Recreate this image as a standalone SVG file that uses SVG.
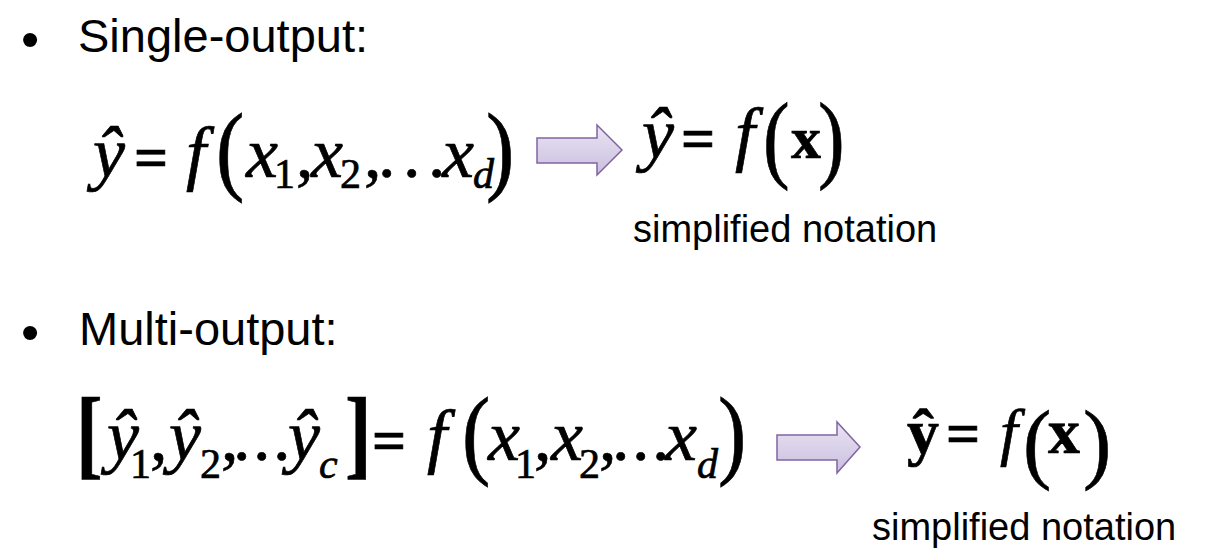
<svg xmlns="http://www.w3.org/2000/svg" width="1206" height="558" viewBox="0 0 1206 558">
<defs>
<linearGradient id="arrowFill" x1="0" y1="0" x2="0" y2="1">
<stop offset="0" stop-color="#EAE5F3"/>
<stop offset="1" stop-color="#C9BEDE"/>
</linearGradient>
<style>
.sans{font-family:"Liberation Sans",Arial,sans-serif;fill:#000}
.h{font-size:47px}
.bul{font-size:52px}
.note{font-size:38px}
.m{font-family:"Liberation Serif","Times New Roman",serif;fill:#000;stroke:#000;stroke-width:0.7px}
.i{font-style:italic;font-size:72px}
.u{font-size:70px}
.sub{font-size:42px}
.subi{font-style:italic;font-size:42px}
.op{font-size:60px;font-weight:bold}
.par{font-size:100px}
.brk{font-size:100px;font-weight:bold}
.b{font-weight:bold;font-size:64px}
.arrow{fill:url(#arrowFill);stroke:#8064A2;stroke-width:1.5}
</style>
</defs>
<rect width="1206" height="558" fill="#fff"/>

<g id="heading-single">
<text class="sans bul" x="21" y="57">•</text>
<text class="sans h" x="78" y="52">Single-output:</text>
</g>

<g id="eq-single-full">
<text class="m i" x="93" y="177">ŷ</text>
<text class="m op" x="134" y="177">=</text>
<text class="m i" x="186" y="177">f</text>
<text class="m par" transform="translate(216,182) scale(0.85,1)">(</text>
<text class="m i" x="246" y="177">x</text>
<text class="m sub" x="274" y="188">1</text>
<text class="m u" x="296" y="177">,</text>
<text class="m i" x="311" y="177">x</text>
<text class="m sub" x="340" y="188">2</text>
<text class="m u" x="364" y="177">,</text>
<text class="m u" x="378" y="177" letter-spacing="7.5">...</text>
<text class="m i" x="442" y="177">x</text>
<text class="m subi" x="473" y="188">d</text>
<text class="m par" transform="translate(486,182) scale(0.85,1)">)</text>
</g>

<g id="eq-single-simple">
<text class="m i" x="642" y="158">ŷ</text>
<text class="m op" x="681" y="158">=</text>
<text class="m i" x="735" y="158">f</text>
<text class="m par" transform="translate(763,170) scale(0.8,0.97)">(</text>
<text class="m b" x="791" y="158" style="font-size:60px">x</text>
<text class="m par" transform="translate(818,170) scale(0.8,0.97)">)</text>
<text class="sans note" x="633" y="242">simplified notation</text>
</g>

<g id="heading-multi">
<text class="sans bul" x="21" y="350">•</text>
<text class="sans h" x="79" y="345">Multi-output:</text>
</g>

<g id="eq-multi-full">
<text class="m brk" transform="translate(76,466) scale(0.8,1)">[</text>
<text class="m i" x="107" y="460">ŷ</text>
<text class="m sub" x="130" y="478">1</text>
<text class="m u" x="150" y="460">,</text>
<text class="m i" x="169" y="460">ŷ</text>
<text class="m sub" x="200" y="478">2</text>
<text class="m u" x="221" y="460">,</text>
<text class="m u" x="233" y="460" letter-spacing="2.5">...</text>
<text class="m i" x="288" y="460">ŷ</text>
<text class="m subi" x="319" y="478">c</text>
<text class="m brk" transform="translate(345,466) scale(0.8,1)">]</text>
<text class="m op" x="372" y="460">=</text>
<text class="m i" x="427" y="460">f</text>
<text class="m par" transform="translate(462,466) scale(0.85,1)">(</text>
<text class="m i" x="488" y="460">x</text>
<text class="m sub" x="515" y="478">1</text>
<text class="m u" x="534" y="460">,</text>
<text class="m i" x="551" y="460">x</text>
<text class="m sub" x="579" y="478">2</text>
<text class="m u" x="599" y="460">,</text>
<text class="m u" x="612" y="460" letter-spacing="2.5">...</text>
<text class="m i" x="665" y="460">x</text>
<text class="m subi" x="697" y="478">d</text>
<text class="m par" transform="translate(718,466) scale(0.85,1)">)</text>
</g>

<g id="eq-multi-simple">
<text class="m b" x="907" y="453">ŷ</text>
<text class="m op" x="946" y="453">=</text>
<text class="m i" x="1000" y="453" style="font-size:64px">f</text>
<text class="m par" transform="translate(1023,472) scale(0.85,0.88)">(</text>
<text class="m b" x="1048" y="453">x</text>
<text class="m par" transform="translate(1083,472) scale(0.85,0.88)">)</text>
<text class="sans note" x="872" y="540">simplified notation</text>
</g>

<g id="connectors">
<polygon class="arrow" points="537,138 597,138 597,125 622,150 597,175 597,163 537,163"/>
<polygon class="arrow" points="777,435 837,435 837,422 860,447 837,473 837,460 777,460"/>
</g>
</svg>
